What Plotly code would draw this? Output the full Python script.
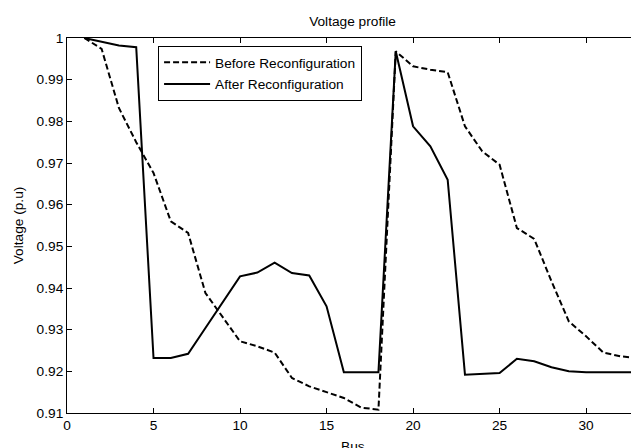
import plotly.graph_objects as go

bus = list(range(1, 34))

# voltage magnitudes (p.u)
v_before = [1.0, 0.9974, 0.9832, 0.9750, 0.9676, 0.9560, 0.9532, 0.9388, 0.9330, 0.9272,
            0.9260, 0.9245, 0.9184, 0.9164, 0.9150, 0.9136, 0.9113, 0.9108, 0.9968, 0.9932,
            0.9924, 0.9918, 0.9788, 0.9728, 0.9696, 0.9544, 0.9518, 0.9416, 0.9320, 0.9284,
            0.9245, 0.9236, 0.9232]
v_after = [1.0, 0.9991, 0.9982, 0.9978, 0.9232, 0.9232, 0.9242, 0.9304, 0.9365, 0.9428,
           0.9437, 0.9461, 0.9436, 0.9430, 0.9356, 0.9198, 0.9198, 0.9198, 0.9968, 0.9788,
           0.9740, 0.9660, 0.9192, 0.9194, 0.9196, 0.9230, 0.9224, 0.9210, 0.9200, 0.9198,
           0.9198, 0.9198, 0.9198]

xticks = [0, 5, 10, 15, 20, 25, 30]
yticks = [0.91, 0.92, 0.93, 0.94, 0.95, 0.96, 0.97, 0.98, 0.99, 1.0]
ytext = ["0.91", "0.92", "0.93", "0.94", "0.95", "0.96", "0.97", "0.98", "0.99", "1"]

fs = 13.7

fig = go.Figure()
fig.add_trace(go.Scatter(x=bus, y=v_before, mode="lines", name="Before Reconfiguration",
                         legendgroup="a",
                         line=dict(color="black", width=2, dash="6px,3px")))
fig.add_trace(go.Scatter(x=bus, y=v_after, mode="lines", name="After Reconfiguration",
                         legendgroup="b",
                         line=dict(color="black", width=2)))

axis_style = dict(showline=True, linecolor="black", linewidth=1, mirror="ticks",
                  ticks="inside", ticklen=5, tickcolor="black", showgrid=False,
                  zeroline=False, automargin=False, tickfont=dict(size=fs, color="black"))

fig.update_xaxes(range=[0, 33], tickvals=xticks, **axis_style)
fig.update_yaxes(range=[0.91, 1.0], tickvals=yticks, ticktext=ytext,
                 title=dict(text="Voltage (p.u)", standoff=9, font=dict(size=fs, color="black")),
                 **axis_style)

# x title placed by hand so it sits low and runs off the bottom edge like the original
fig.add_annotation(text="Bus", xref="paper", yref="paper", x=0.5, y=0,
                   xanchor="center", yanchor="top", yshift=-24, showarrow=False,
                   font=dict(size=fs, color="black"))

# page body has an 8px margin, so the figure is shifted by that much
fig.update_layout(
    width=631, height=440,
    margin=dict(l=59, r=1, t=30, b=35),
    plot_bgcolor="white", paper_bgcolor="white",
    font=dict(family="Liberation Sans, Arial, sans-serif", size=fs, color="black"),
    title=dict(text="Voltage profile", xref="paper", x=0.5, xanchor="center",
               y=0.97, yanchor="middle", font=dict(size=fs, color="black")),
    legend=dict(x=0.1595, y=0.979, xanchor="left", yanchor="top", bgcolor="white",
                bordercolor="black", borderwidth=1, tracegroupgap=1, itemwidth=46,
                font=dict(size=fs, color="black")),
)

fig.write_html("out.html")
